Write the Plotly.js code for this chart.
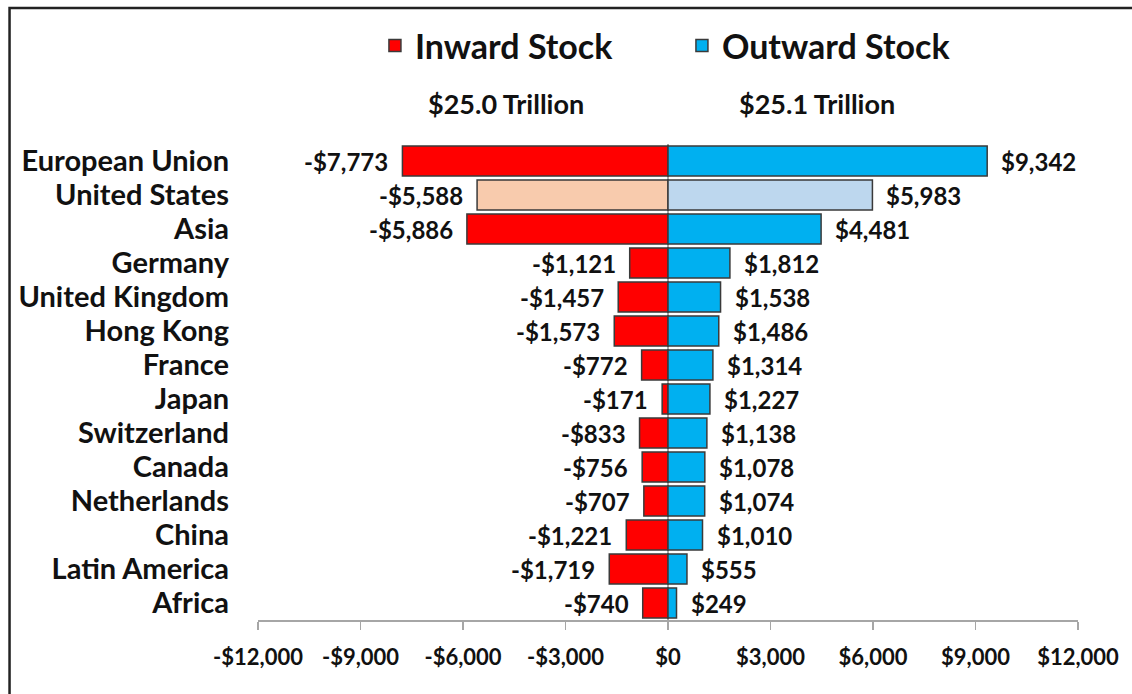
<!DOCTYPE html>
<html>
<head>
<meta charset="utf-8">
<script src="https://cdn.plot.ly/plotly-3.0.1.min.js"></script>
<style>
  html, body { margin: 0; padding: 0; background: #fff; }
  #chart { width: 1132px; height: 694px; }
</style>
</head>
<body>
<div id="chart"></div>
<script>
// Categories, top to bottom
const regions = ['European Union', 'United States', 'Asia', 'Germany', 'United Kingdom',
  'Hong Kong', 'France', 'Japan', 'Switzerland', 'Canada', 'Netherlands', 'China',
  'Latin America', 'Africa'];

// FDI stock, US$ billions (inward shown as negatives)
const inward = [-7773, -5588, -5886, -1121, -1457, -1573, -772, -171, -833, -756, -707, -1221, -1719, -740];
const outward = [9342, 5983, 4481, 1812, 1538, 1486, 1314, 1227, 1138, 1078, 1074, 1010, 555, 249];

// Totals shown above each side
const totals = ['$25.0 Trillion', '$25.1 Trillion'];

// Axis ticks
const tickVals = [-12000, -9000, -6000, -3000, 0, 3000, 6000, 9000, 12000];
const tickText = ['-$12,000', '-$9,000', '-$6,000', '-$3,000', '$0', '$3,000', '$6,000', '$9,000', '$12,000'];

// The United States row is drawn in lighter shades
const highlight = 'United States';

const font = 'Lato, "Open Sans", sans-serif';

// Format a value like -$7,773 or $9,342
function money(v) {
  const s = '$' + Math.abs(v).toLocaleString('en-US');
  return v < 0 ? '-' + s : s;
}

const inColors = regions.map(r => r === highlight ? '#F8CBAD' : '#FF0000');
const outColors = regions.map(r => r === highlight ? '#BDD7EE' : '#00B0F0');

const traces = [
  {
    type: 'bar', orientation: 'h', name: 'Inward Stock',
    x: inward, y: regions,
    marker: { color: inColors, line: { color: '#3a3a3a', width: 1.5 } },
    hoverinfo: 'y+x'
  },
  {
    type: 'bar', orientation: 'h', name: 'Outward Stock',
    x: outward, y: regions,
    marker: { color: outColors, line: { color: '#3a3a3a', width: 1.5 } },
    hoverinfo: 'y+x'
  }
];

// Value labels next to each bar
const labelFont = { family: font, size: 24, weight: 'bold', color: '#111' };
const labels = [];
regions.forEach((r, i) => {
  labels.push({ x: inward[i], y: r, text: money(inward[i]), showarrow: false,
    xanchor: 'right', xshift: -12, font: labelFont });
  labels.push({ x: outward[i], y: r, text: money(outward[i]), showarrow: false,
    xanchor: 'left', xshift: 12, font: labelFont });
});

// Totals over each half
const totalFont = { family: font, size: 27, weight: 'bold', color: '#111' };
labels.push({ xref: 'paper', yref: 'paper', x: 0.3024, y: 1.086, xanchor: 'center', yanchor: 'middle',
  text: totals[0], showarrow: false, font: totalFont });
labels.push({ xref: 'paper', yref: 'paper', x: 0.6817, y: 1.086, xanchor: 'center', yanchor: 'middle',
  text: totals[1], showarrow: false, font: totalFont });

const layout = {
  width: 1132, height: 694,
  margin: { l: 258, r: 54, t: 144, b: 74 },
  barmode: 'relative',
  bargap: 0.12,
  paper_bgcolor: '#fff',
  plot_bgcolor: '#fff',
  font: { family: font, color: '#111' },
  showlegend: true,
  legend: {
    orientation: 'h', x: 0.517, xanchor: 'center', y: 1.206, yanchor: 'middle',
    font: { family: font, size: 34, weight: 'bold', color: '#111' },
    entrywidth: 262,
    traceorder: 'normal'
  },
  xaxis: {
    range: [-12000, 12000],
    tickvals: tickVals, ticktext: tickText,
    showgrid: false,
    zeroline: true, zerolinecolor: '#a6a6a6', zerolinewidth: 1.5,
    showline: true, linecolor: '#a6a6a6', linewidth: 1.5,
    ticks: 'outside', ticklen: 8, tickcolor: '#a6a6a6', tickwidth: 1.5,
    ticklabelstandoff: 9,
    tickfont: { family: font, size: 22, weight: 'bold', color: '#111' },
    fixedrange: true
  },
  yaxis: {
    autorange: 'reversed',
    tickmode: 'array', tickvals: regions, ticktext: regions,
    showgrid: false, showline: false, ticks: '',
    ticklabelstandoff: 28,
    tickfont: { family: font, size: 29, weight: 'bold', color: '#111' },
    fixedrange: true
  },
  annotations: labels,
  shapes: [
    // outer chart frame
    { type: 'rect', xref: 'paper', yref: 'paper', x0: -0.303, x1: 1.2, y0: -0.3, y1: 1.2857,
      line: { color: '#222', width: 2.5 }, fillcolor: 'rgba(0,0,0,0)' }
  ]
};

Plotly.newPlot('chart', traces, layout, { displayModeBar: false, staticPlot: true });
</script>
</body>
</html>
